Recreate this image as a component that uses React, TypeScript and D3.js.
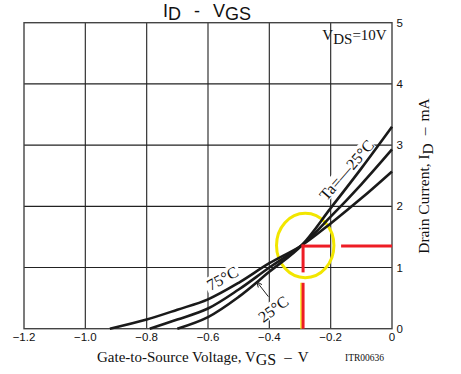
import React from "react";
import * as d3 from "d3";

const W = 461;
const H = 374;

// Axis ticks
const xTicks = [-1.2, -1.0, -0.8, -0.6, -0.4, -0.2, 0];
const xTickLabels = ["\u22121.2", "\u22121.0", "\u22120.8", "\u22120.6", "\u22120.4", "\u22120.2", "0"];
const yTicks = [0, 1, 2, 3, 4, 5];
const yTickLabels = ["0", "1", "2", "3", "4", "5"];

// Series: Ta = -25°C
const vM25 = [-0.70, -0.6, -0.5, -0.4, -0.295, -0.2, -0.1, 0];
const iM25 = [0, 0.19, 0.52, 0.93, 1.36, 1.97, 2.62, 3.30];
// Series: Ta = 25°C
const v25 = [-0.79, -0.7, -0.6, -0.5, -0.4, -0.295, -0.2, -0.1, 0];
const i25 = [0, 0.15, 0.33, 0.64, 1.0, 1.36, 1.83, 2.36, 2.93];
// Series: Ta = 75°C
const v75 = [-0.92, -0.8, -0.7, -0.6, -0.5, -0.4, -0.295, -0.2, -0.1, 0];
const i75 = [0, 0.15, 0.31, 0.48, 0.75, 1.07, 1.36, 1.72, 2.13, 2.57];

// Red marker (operating point) and its gaps
const markerV = -0.29;
const markerI = 1.35;
const hGap = [-0.202, -0.166];
const vGap = [0.92, 0.75];
// Yellow ellipse (center and semi-axes in data units)
const ellipseC = [-0.283, 1.36];
const ellipseR = [0.0936, 0.526];

export default function App() {
  const x = d3.scaleLinear().domain([-1.2, 0]).range([24, 392]);
  const y = d3.scaleLinear().domain([0, 5]).range([328.7, 22.7]);

  const line = d3
    .line<[number, number]>()
    .x((d) => x(d[0]))
    .y((d) => y(d[1]))
    .curve(d3.curveCatmullRom.alpha(0.5));

  const series = [
    vM25.map((v, k) => [v, iM25[k]] as [number, number]),
    v25.map((v, k) => [v, i25[k]] as [number, number]),
    v75.map((v, k) => [v, i75[k]] as [number, number]),
  ];

  const serif = "'Liberation Serif', 'Times New Roman', serif";
  const sans = "'Liberation Sans', Arial, sans-serif";

  const labels = [
    { text: "Ta=\u201425\u00b0C", v: -0.148, i: 2.593, angle: -49, w: 74 },
    { text: "75\u00b0C", v: -0.553, i: 0.824, angle: -28, w: 38 },
    { text: "25\u00b0C", v: -0.387, i: 0.322, angle: -36, w: 38 },
  ];

  const arrowTip = [-0.441, 0.768];
  const arrowTail = [-0.403, 0.523];
  const ax1 = x(arrowTip[0]);
  const ay1 = y(arrowTip[1]);
  const ax2 = x(arrowTail[0]);
  const ay2 = y(arrowTail[1]);
  const ang = Math.atan2(ay1 - ay2, ax1 - ax2);
  const ah = 6;
  const arrowHead = [
    [ax1 - ah * Math.cos(ang - 0.4), ay1 - ah * Math.sin(ang - 0.4)],
    [ax1, ay1],
    [ax1 - ah * Math.cos(ang + 0.4), ay1 - ah * Math.sin(ang + 0.4)],
  ];

  const mx = x(markerV);
  const my = y(markerI);

  return (
    <svg
      width={W}
      height={H}
      style={{ position: "absolute", left: 0, top: 0, background: "#fff" }}
    >
      <rect x={0} y={0} width={W} height={H} fill="#fff" />

      {/* grid */}
      {xTicks.slice(1, -1).map((t) => (
        <line key={"gx" + t} x1={x(t)} x2={x(t)} y1={y(5)} y2={y(0)} stroke="#333" strokeWidth={1.2} />
      ))}
      {yTicks.slice(1, -1).map((t) => (
        <line key={"gy" + t} x1={x(-1.2)} x2={x(0)} y1={y(t)} y2={y(t)} stroke="#222" strokeWidth={1.2} />
      ))}
      <rect
        x={x(-1.2)}
        y={y(5)}
        width={x(0) - x(-1.2)}
        height={y(0) - y(5)}
        fill="none"
        stroke="#444"
        strokeWidth={1.4}
      />

      {/* label boxes (mask grid) */}
      {labels.map((l, k) => (
        <g key={"lb" + k} transform={`translate(${x(l.v)},${y(l.i)}) rotate(${l.angle})`}>
          <rect x={-l.w / 2} y={-8} width={l.w} height={15} fill="#fff" />
        </g>
      ))}

      {/* yellow ellipse */}
      <ellipse
        cx={x(ellipseC[0])}
        cy={y(ellipseC[1])}
        rx={x(ellipseC[0] + ellipseR[0]) - x(ellipseC[0])}
        ry={y(ellipseC[1]) - y(ellipseC[1] + ellipseR[1])}
        fill="none"
        stroke="#f2e600"
        strokeWidth={3}
      />

      {/* curves */}
      {series.map((s, k) => (
        <path key={"s" + k} d={line(s) || ""} fill="none" stroke="#1a1a1a" strokeWidth={2.6} />
      ))}

      {/* yellow thin line beside red */}
      <line x1={mx - 2} x2={mx - 2} y1={y(vGap[1])} y2={y(0)} stroke="#f2e600" strokeWidth={1.5} />

      {/* red marker lines */}
      <g stroke="#ee1c25" strokeWidth={3}>
        <line x1={mx - 1.5} x2={x(hGap[0])} y1={my} y2={my} />
        <line x1={x(hGap[1])} x2={x(0)} y1={my} y2={my} />
        <line x1={mx} x2={mx} y1={my - 1.5} y2={y(vGap[0])} />
        <line x1={mx} x2={mx} y1={y(vGap[1])} y2={y(0)} />
      </g>

      {/* arrow for 25°C */}
      <line x1={ax1} y1={ay1} x2={ax2} y2={ay2} stroke="#222" strokeWidth={1} />
      <polyline points={arrowHead.map((p) => p.join(",")).join(" ")} fill="none" stroke="#222" strokeWidth={1} />

      {/* curve labels */}
      {labels.map((l, k) => (
        <text
          key={"lt" + k}
          transform={`translate(${x(l.v)},${y(l.i)}) rotate(${l.angle})`}
          textAnchor="middle"
          dominantBaseline="central"
          fontFamily={serif}
          fontSize={16}
          fill="#111"
        >
          {l.text}
        </text>
      ))}

      {/* x tick labels */}
      {xTicks.map((t, k) => (
        <text key={"xt" + t} x={x(t)} y={341} textAnchor="middle" fontFamily={sans} fontSize={11.5} fill="#111">
          {xTickLabels[k]}
        </text>
      ))}

      {/* right y tick labels */}
      {yTicks.map((t, k) => (
        <text
          key={"yt" + t}
          x={x(0) + 4.5}
          y={y(t)}
          dominantBaseline="central"
          fontFamily={sans}
          fontSize={11.5}
          fill="#111"
        >
          {yTickLabels[k]}
        </text>
      ))}

      {/* title */}
      <text x={163} y={17} fontFamily={sans} fontSize={18} fill="#111">
        <tspan>I</tspan>
        <tspan dy={3}>D</tspan>
        <tspan dx={13} dy={-3}>-</tspan>
        <tspan dx={13}>V</tspan>
        <tspan dy={3}>GS</tspan>
      </text>

      {/* VDS annotation */}
      <text x={386.7} y={40} textAnchor="end" fontFamily={serif} fontSize={15} fill="#111">
        <tspan>V</tspan>
        <tspan dy={4}>DS</tspan>
        <tspan dy={-4}>=10V</tspan>
      </text>

      {/* x axis title */}
      <text x={97} y={361.5} fontFamily={serif} fontSize={15} fill="#111">
        <tspan>Gate-to-Source Voltage, V</tspan>
        <tspan dy={3.5} fontSize={16}>GS</tspan>
        <tspan dx={8} dy={-3.5}>{"\u2013"}</tspan>
        <tspan dx={6}>V</tspan>
      </text>
      <text x={345} y={361} fontFamily={serif} fontSize={9.5} fill="#111">
        ITR00636
      </text>

      {/* right y axis title */}
      <text
        transform={`translate(429,176) rotate(-90)`}
        textAnchor="middle"
        fontFamily={serif}
        fontSize={15.5}
        fill="#111"
      >
        <tspan>Drain Current, I</tspan>
        <tspan dy={3.5}>D</tspan>
        <tspan dx={8} dy={-3.5}>{"\u2013"}</tspan>
        <tspan dx={6}>mA</tspan>
      </text>
    </svg>
  );
}
